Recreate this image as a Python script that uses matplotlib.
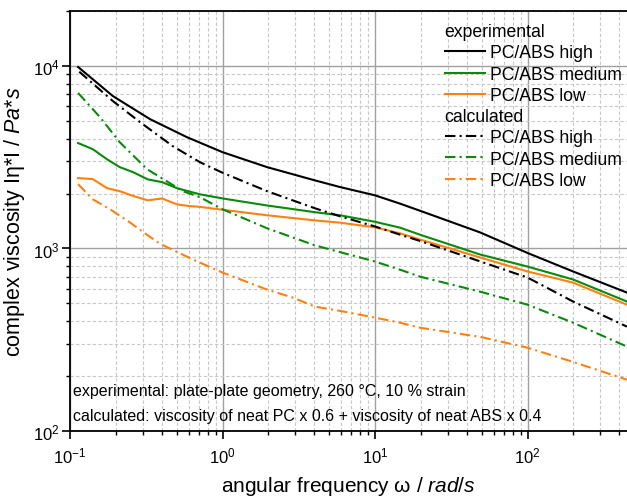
import matplotlib
matplotlib.use('Agg')
import matplotlib.pyplot as plt
import numpy as np
from matplotlib.ticker import LogLocator, NullFormatter

plt.rcParams['font.family'] = ['Liberation Sans', 'DejaVu Sans']
plt.rcParams['mathtext.fontset'] = 'custom'
plt.rcParams['mathtext.rm'] = 'Liberation Sans'
plt.rcParams['mathtext.it'] = 'Liberation Sans:italic'
plt.rcParams['mathtext.default'] = 'regular'

# experimental curves (angular frequency in rad/s, viscosity in Pa*s)
w_exp_high = [0.113, 0.191, 0.335, 0.585, 1.0, 1.96, 4.04, 5.9, 10, 14.6, 19.7, 48.8, 100, 199, 449]
eta_exp_high = [9870, 6840, 5110, 4070, 3370, 2790, 2360, 2170, 1955, 1760, 1610, 1225, 945, 748, 573]

w_exp_med = [0.113, 0.141, 0.175, 0.212, 0.259, 0.324, 0.401, 0.502, 0.595, 0.711, 1.0,
             1.96, 4.04, 5.9, 10, 14.6, 19.7, 48.8, 100, 199, 449]
eta_exp_med = [3780, 3500, 3080, 2790, 2620, 2390, 2310, 2140, 2060, 1980, 1880,
               1720, 1580, 1520, 1400, 1300, 1190, 927, 796, 676, 512]

w_exp_low = [0.113, 0.141, 0.175, 0.212, 0.259, 0.324, 0.401, 0.502, 0.595, 0.711, 1.0,
             1.96, 4.04, 5.9, 10, 14.6, 19.7, 48.8, 100, 199, 449]
eta_exp_low = [2430, 2400, 2140, 2060, 1940, 1835, 1880, 1745, 1710, 1690, 1630,
               1520, 1425, 1385, 1305, 1210, 1120, 893, 748, 650, 492]

# calculated curves
w_calc_high = [0.115, 0.191, 0.288, 0.473, 0.711, 1.0, 1.96, 4.04, 5.9, 10, 14.6, 19.7, 48.8, 100, 199, 449]
eta_calc_high = [9300, 6420, 4920, 3630, 2970, 2600, 2060, 1660, 1500, 1320, 1190, 1100, 850, 693, 512, 373]

w_calc_med = [0.113, 0.157, 0.212, 0.32, 0.55, 0.711, 1.0, 1.96, 4.04, 5.9, 10, 14.6, 19.7, 48.8, 100, 199, 449]
eta_calc_med = [7110, 5250, 3820, 2720, 2060, 1910, 1640, 1290, 1040, 955, 848, 765, 701, 580, 492, 392, 290]

w_calc_low = [0.113, 0.141, 0.183, 0.247, 0.31, 0.39, 0.64, 1.0, 1.96, 2.9, 4.04, 5.9, 10, 14.6, 19.7,
              48.8, 100, 199, 449]
eta_calc_low = [2250, 1860, 1640, 1390, 1210, 1060, 870, 738, 595, 538, 480, 455, 418, 392, 368,
                328, 286, 239, 191]

black = 'black'
green = '#0a8a0a'
orange = '#ff8010'
dd = (5, 2, 1, 2)

fig = plt.figure(figsize=(6.27, 5.02), dpi=100)
ax = fig.add_axes([70/627, 70/502, 557/627, 420/502])

exp_lines = []
exp_lines += ax.plot(w_exp_high, eta_exp_high, color=black, lw=1.5, label='PC/ABS high')
exp_lines += ax.plot(w_exp_med, eta_exp_med, color=green, lw=1.5, label='PC/ABS medium')
exp_lines += ax.plot(w_exp_low, eta_exp_low, color=orange, lw=1.5, label='PC/ABS low')
calc_lines = []
calc_lines += ax.plot(w_calc_high, eta_calc_high, color=black, lw=1.5, dashes=dd, label='PC/ABS high')
calc_lines += ax.plot(w_calc_med, eta_calc_med, color=green, lw=1.5, dashes=dd, label='PC/ABS medium')
calc_lines += ax.plot(w_calc_low, eta_calc_low, color=orange, lw=1.5, dashes=dd, label='PC/ABS low')

ax.set_xscale('log')
ax.set_yscale('log')
ax.set_xlim(0.1, 449)
ax.set_ylim(100, 20000)

ax.xaxis.set_minor_locator(LogLocator(base=10, subs=np.arange(2, 10), numticks=20))
ax.yaxis.set_minor_locator(LogLocator(base=10, subs=np.arange(2, 10), numticks=20))
ax.xaxis.set_minor_formatter(NullFormatter())
ax.yaxis.set_minor_formatter(NullFormatter())

ax.grid(which='major', color='#a0a0a0', lw=1.0, ls='-')
ax.grid(which='minor', color='#c8c8c8', lw=0.8, ls=(0, (3, 2)))
ax.set_axisbelow(True)

ax.tick_params(which='major', direction='out', length=5.5, width=1.2, labelsize=12, colors='black')
ax.tick_params(which='minor', direction='out', length=3, width=1.0)
ax.tick_params(axis='x', which='major', pad=5)
ax.tick_params(axis='y', which='major', pad=2)
ax.tick_params(top=False, right=False, which='both')

for s in ['left', 'bottom', 'top']:
    ax.spines[s].set_linewidth(1.3)
ax.spines['right'].set_visible(False)

ax.set_xlabel(r'angular frequency ω / $\mathit{rad/s}$', fontsize=15, labelpad=6)
ax.set_ylabel(r'complex viscosity Iη*I / $\mathit{Pa{*}s}$', fontsize=15.5, labelpad=4)

leg_kw = dict(loc='upper left', frameon=False, fontsize=12.7, title_fontsize=12.7,
              borderpad=0.15, borderaxespad=0, handlelength=2.3, handletextpad=0.25,
              labelspacing=0.25, alignment='left')
leg1 = ax.legend(handles=exp_lines, title='experimental', bbox_to_anchor=(0.668, 0.978), **leg_kw)
ax.add_artist(leg1)
ax.legend(handles=calc_lines, title='calculated', bbox_to_anchor=(0.668, 0.776), **leg_kw)

ax.text(0.006, 0.085, 'experimental: plate-plate geometry, 260 °C, 10 % strain',
        transform=ax.transAxes, fontsize=11.5, va='baseline')
ax.text(0.006, 0.025, 'calculated: viscosity of neat PC x 0.6 + viscosity of neat ABS x 0.4',
        transform=ax.transAxes, fontsize=11.5, va='baseline')

plt.savefig('out.png', dpi=100)
